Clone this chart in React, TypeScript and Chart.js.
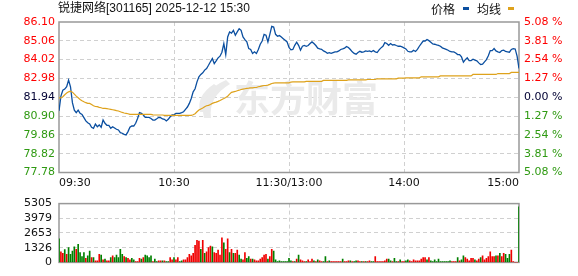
import React, { useEffect, useRef } from 'react';
import { Chart, registerables } from 'chart.js';
Chart.register(...registerables);

const TITLE = '锐捷网络[301165] 2025-12-12 15:30';
const LEGEND_PRICE = '价格';
const LEGEND_AVG = '均线';
const WATERMARK = '东方财富';
const PREV_CLOSE = 81.94;
const priceTicks = [77.78, 78.82, 79.86, 80.9, 81.94, 82.98, 84.02, 85.06, 86.1];
const volTicks = [0, 1326, 2653, 3979, 5305];
const timeTickIdx = [0, 60, 120, 180, 240];
const timeLabels = ['09:30', '10:30', '11:30/13:00', '14:00', '15:00'];

const price = [
  81.19, 82.0, 82.33, 82.39, 82.52, 82.89, 82.52, 81.64, 81.23, 81.09,
  81.23, 81.05, 80.99, 80.81, 80.63, 80.53, 80.46, 80.28, 80.22, 80.46,
  80.31, 80.41, 80.28, 80.68, 80.5, 80.39, 80.39, 80.22, 80.31, 80.24,
  80.17, 80.13, 79.98, 79.95, 79.89, 79.86, 80.04, 80.28, 80.35, 80.35,
  80.5, 80.77, 81.09, 81.05, 80.96, 80.83, 80.83, 80.83, 80.77, 80.68,
  80.68, 80.75, 80.83, 80.81, 80.74, 80.72, 80.63, 80.72, 80.86, 80.96,
  80.96,
  81.05, 81.05, 81.05, 81.09, 81.14, 81.27, 81.4, 81.6, 81.87, 82.24,
  82.41, 82.79, 83.07, 83.2, 83.29, 83.44, 83.53, 83.71, 83.9, 84.08,
  83.8, 83.95, 84.12, 84.21, 84.43, 84.91, 84.3, 85.27, 85.55, 85.49,
  85.64, 85.37, 85.55, 85.73, 85.64, 85.27, 85.13, 85.0, 84.63, 84.58,
  84.36, 84.45, 84.36, 84.58, 84.87, 85.05, 85.42, 85.37, 85.0, 85.42,
  85.86, 85.82, 85.42, 85.31, 85.35, 85.27, 85.18, 85.09, 85.0, 84.69,
  84.56, 84.58, 84.81, 84.98, 84.81, 84.54, 84.76, 84.8, 84.76, 84.8,
  84.91, 85.0, 84.91, 84.8, 84.65, 84.61, 84.59, 84.5, 84.45, 84.37,
  84.41, 84.37, 84.41, 84.45, 84.45, 84.5, 84.58, 84.61, 84.65, 84.74,
  84.69, 84.58, 84.45, 84.36, 84.32, 84.41, 84.48, 84.43, 84.45, 84.5,
  84.48, 84.5, 84.45, 84.52, 84.45, 84.41, 84.56, 84.67, 84.76, 84.96,
  84.91, 84.81, 84.91, 84.83, 84.85, 84.8, 84.76, 84.76, 84.72, 84.67,
  84.61, 84.48, 84.45, 84.45, 84.54, 84.47, 84.59, 84.76, 84.91, 85.05,
  85.05, 85.13, 85.07, 84.98, 84.89, 84.87, 84.83, 84.81, 84.76, 84.67,
  84.63, 84.59, 84.54, 84.47, 84.45, 84.45, 84.39, 84.3, 84.3, 84.17,
  83.88, 84.02, 84.12, 83.97, 83.97, 84.04, 83.99, 83.95, 83.84, 83.75,
  83.77, 83.9, 84.02, 84.23, 84.52, 84.52, 84.63, 84.5, 84.45, 84.41,
  84.52, 84.54, 84.47, 84.45, 84.43, 84.58, 84.63, 84.61, 84.21, 83.53,
];

const avgPrice = [
  81.9, 81.9, 81.97, 82.08, 82.17, 82.24, 82.28, 82.22, 82.11, 82.0,
  81.91, 81.82, 81.75, 81.69, 81.64, 81.6, 81.6, 81.54, 81.47, 81.43,
  81.42, 81.38, 81.36, 81.32, 81.32, 81.31, 81.29, 81.27, 81.25, 81.23,
  81.2, 81.18, 81.14, 81.1, 81.07, 81.05, 81.03, 80.99, 80.99, 80.99,
  80.99, 80.99, 80.99, 80.99, 80.99, 80.99, 80.99, 80.99, 80.99, 80.97,
  80.96, 80.96, 80.96, 80.96, 80.96, 80.94, 80.94, 80.94, 80.94, 80.94,
  80.94,
  80.94, 80.94, 80.94, 80.94, 80.94, 80.94, 80.94, 80.94, 80.94, 80.97,
  81.03, 81.14, 81.23, 81.29, 81.34, 81.42, 81.47, 81.49, 81.54, 81.6,
  81.64, 81.67, 81.71, 81.76, 81.82, 81.87, 81.93, 82.0, 82.11, 82.21,
  82.24, 82.26, 82.3, 82.33, 82.37, 82.39, 82.41, 82.43, 82.44, 82.46,
  82.46, 82.48, 82.48, 82.52, 82.54, 82.57, 82.59, 82.59, 82.61, 82.65,
  82.7, 82.72, 82.74, 82.74, 82.74, 82.74, 82.74, 82.74, 82.74, 82.74,
  82.78, 82.79, 82.79, 82.79, 82.79, 82.79, 82.79, 82.79, 82.82, 82.82,
  82.82, 82.82, 82.82, 82.82, 82.82, 82.82, 82.82, 82.87, 82.87, 82.87,
  82.87, 82.87, 82.87, 82.87, 82.87, 82.87, 82.87, 82.87, 82.87, 82.87,
  82.9, 82.9, 82.9, 82.9, 82.9, 82.9, 82.9, 82.9, 82.9, 82.9,
  82.92, 82.92, 82.92, 82.92, 82.92, 82.96, 82.96, 82.96, 82.96, 82.96,
  82.96, 82.96, 82.96, 82.96, 82.96, 82.96, 83.0, 83.0, 83.0, 83.0,
  83.01, 83.01, 83.01, 83.01, 83.01, 83.01, 83.01, 83.01, 83.07, 83.07,
  83.07, 83.07, 83.07, 83.07, 83.07, 83.07, 83.07, 83.07, 83.12, 83.12,
  83.12, 83.12, 83.12, 83.12, 83.12, 83.12, 83.12, 83.12, 83.12, 83.12,
  83.12, 83.12, 83.12, 83.12, 83.12, 83.2, 83.2, 83.2, 83.2, 83.2,
  83.2, 83.2, 83.2, 83.2, 83.2, 83.2, 83.2, 83.2, 83.25, 83.25,
  83.25, 83.25, 83.25, 83.25, 83.25, 83.31, 83.31, 83.31, 83.31, 83.31,
];

const volume = [
  2137, 958, 810, 1154, 737, 1326, 737, 1031, 1400, 1179,
  1621, 884, 516, 884, 368, 589, 1031, 442, 442, 147,
  147, 737, 663, 221, 295, 147, 147, 442, 589, 442,
  663, 442, 1179, 737, 516, 442, 368, 221, 368, 221,
  74, 74, 368, 295, 442, 663, 589, 442, 589, 74,
  295, 74, 147, 147, 147, 147, 74, 74, 442, 221,
  442, 221, 442, 74, 147, 221, 221, 442, 737, 589,
  810, 1547, 1989, 1916, 1179, 1989, 810, 958, 1326, 1474,
  1400, 884, 810, 1105, 663, 2210, 1768, 1179, 2137, 884,
  1179, 810, 810, 1105, 663, 295, 221, 884, 368, 516,
  295, 295, 221, 147, 147, 295, 442, 663, 737, 295,
  516, 1179, 1031, 221, 74, 147, 74, 74, 74, 74,
  368,
  147, 74, 74, 295, 663, 221, 147, 74, 74, 221,
  74, 295, 147, 74, 221, 147, 74, 74, 516, 74,
  147, 74, 74, 74, 74, 74, 74, 295, 74, 74,
  147, 147, 74, 74, 147, 147, 74, 74, 74, 74,
  74, 147, 74, 74, 516, 74, 74, 74, 74, 147,
  295, 295, 147, 74, 368, 74, 74, 221, 74, 74,
  147, 221, 147, 74, 221, 147, 147, 147, 295, 442,
  442, 221, 442, 147, 74, 221, 74, 295, 74, 74,
  74, 74, 74, 147, 74, 74, 74, 442, 147, 221,
  589, 442, 295, 147, 368, 368, 221, 147, 295, 442,
  589, 221, 368, 516, 958, 516, 516, 589, 589, 810,
  516, 810, 737, 368, 737, 1105, 74, 0, 0, 5010,
];

// 1 = up (red), -1 = down (green)
const volDir = [
  -1, 1, 1, -1, 1, -1, -1, -1, -1, 1,
  -1, -1, -1, -1, 1, -1, -1, 1, -1, 1,
  1, 1, -1, 1, -1, 1, 1, -1, 1, -1,
  -1, -1, -1, -1, 1, -1, 1, 1, -1, -1,
  1, 1, 1, -1, 1, -1, -1, -1, -1, 1,
  -1, -1, 1, 1, -1, 1, -1, -1, 1, 1,
  -1, 1, 1, -1, -1, 1, 1, 1, 1, 1,
  1, 1, 1, 1, -1, 1, -1, 1, 1, 1,
  -1, 1, 1, 1, 1, 1, -1, 1, 1, -1,
  1, -1, 1, 1, -1, -1, 1, 1, -1, -1,
  1, -1, 1, 1, 1, 1, 1, 1, 1, -1,
  1, 1, -1, -1, -1, -1, -1, -1, -1, -1,
  -1,
  -1, 1, -1, 1, -1, 1, 1, 1, -1, 1,
  1, 1, -1, 1, -1, 1, 1, -1, -1, 1,
  -1, 1, 1, 1, 1, 1, 1, -1, 1, 1,
  1, -1, 1, -1, -1, 1, 1, -1, 1, -1,
  1, 1, -1, -1, 1, 1, 1, 1, 1, 1,
  1, -1, -1, 1, -1, -1, 1, -1, 1, 1,
  -1, -1, 1, 1, 1, 1, 1, 1, 1, 1,
  1, -1, 1, -1, -1, -1, -1, -1, -1, -1,
  -1, -1, -1, -1, 1, 1, 1, -1, 1, -1,
  -1, 1, 1, 1, 1, 1, -1, 1, 1, -1,
  1, 1, 1, 1, 1, 1, 1, -1, 1, -1,
  1, 1, -1, -1, -1, 1, 1, 1, 1, -1,
];

const RED = '#ff0000';
const GREEN = '#2f9a12';
const DARK = '#000033';
const BAR_RED = '#f00000';
const BAR_GREEN = '#008000';
const BLUE = '#0b4fa0';
const ORANGE = '#dea21c';
const GRID = '#d0d0d0';
const FRAME = '#999999';
const TICK_FONT = { family: '"DejaVu Sans", sans-serif', size: 11 };

const W = 578;
const PRICE_H = 190;
const VOL_H = 86;

const near = (a: number, b: number) => Math.abs(a - b) < 1e-6;

const framePlugin = {
  id: 'frame',
  beforeDatasetsDraw(chart: any) {
    const { ctx, chartArea: a } = chart;
    ctx.save();
    ctx.strokeStyle = FRAME;
    ctx.lineWidth = 1.5;
    ctx.strokeRect(a.left, a.top, a.right - a.left, a.bottom - a.top);
    ctx.restore();
  },
};

const watermarkPlugin = {
  id: 'watermark',
  beforeDatasetsDraw(chart: any) {
    const { ctx } = chart;
    ctx.save();
    ctx.fillStyle = '#eaeaea';
    ctx.beginPath();
    ctx.moveTo(226, 80);
    ctx.quadraticCurveTo(198, 92, 204, 118);
    ctx.lineTo(211, 118);
    ctx.quadraticCurveTo(208, 97, 230, 84);
    ctx.closePath();
    ctx.fill();
    ctx.beginPath();
    ctx.moveTo(214, 84);
    ctx.quadraticCurveTo(196, 96, 200, 112);
    ctx.lineTo(203, 112);
    ctx.quadraticCurveTo(202, 98, 218, 87);
    ctx.closePath();
    ctx.fill();
    ctx.font = 'bold 36px "Noto Sans CJK SC"';
    ctx.textBaseline = 'middle';
    ctx.textAlign = 'left';
    ctx.fillText(WATERMARK, 234, 98);
    ctx.restore();
  },
};

const headerPlugin = {
  id: 'header',
  afterDraw(chart: any) {
    const { ctx } = chart;
    ctx.save();
    ctx.textBaseline = 'middle';
    ctx.textAlign = 'left';
    ctx.fillStyle = '#111';
    ctx.font = '12px "Liberation Sans", "Noto Sans CJK SC", sans-serif';
    ctx.fillText(TITLE, 58, 9);
    ctx.font = '12px "Noto Sans CJK SC", sans-serif';
    ctx.fillText(LEGEND_PRICE, 431, 9);
    ctx.fillText(LEGEND_AVG, 477, 9);
    ctx.fillStyle = BLUE;
    ctx.fillRect(463, 7, 6, 3);
    ctx.fillStyle = ORANGE;
    ctx.fillRect(508, 7, 6, 3);
    ctx.restore();
  },
};

const labelColor = (v: number) => (near(v, PREV_CLOSE) ? DARK : v > PREV_CLOSE ? RED : GREEN);

export default function App() {
  const priceRef = useRef<HTMLCanvasElement>(null);
  const volRef = useRef<HTMLCanvasElement>(null);

  useEffect(() => {
    document.body.style.margin = '0';
    const xs = price.map((_, i) => i);
    const setPriceTicks = (s: any) => {
      s.ticks = priceTicks.map((v) => ({ value: v }));
    };
    const setTimeTicks = (s: any) => {
      s.ticks = timeTickIdx.map((v) => ({ value: v }));
    };
    const innerGrid = (n: number) => (ctx: any) =>
      ctx.index === 0 || ctx.index === n - 1 ? 'rgba(0,0,0,0)' : GRID;

    const priceChart = new Chart(priceRef.current as HTMLCanvasElement, {
      type: 'line',
      data: {
        datasets: [
          {
            label: LEGEND_AVG,
            data: xs.map((i) => ({ x: i, y: avgPrice[i] })),
            borderColor: ORANGE,
            borderWidth: 1.2,
            pointRadius: 0,
            tension: 0,
            yAxisID: 'y',
          },
          {
            label: LEGEND_PRICE,
            data: xs.map((i) => ({ x: i, y: price[i] })),
            borderColor: BLUE,
            borderWidth: 1.3,
            pointRadius: 0,
            tension: 0,
            yAxisID: 'y',
          },
        ],
      },
      options: {
        responsive: false,
        animation: false,
        events: [],
        layout: { padding: { top: 22, left: 0, right: 0, bottom: 0 } },
        plugins: { legend: { display: false }, tooltip: { enabled: false }, title: { display: false } },
        scales: {
          x: {
            type: 'linear',
            min: 0,
            max: 240,
            afterBuildTicks: setTimeTicks,
            afterFit: (s: any) => {
              s.height = PRICE_H - 172.5;
            },
            ticks: {
              autoSkip: false,
              maxRotation: 0,
              align: 'inner',
              padding: 4,
              color: '#111',
              font: TICK_FONT,
              callback: (_v: any, i: number) => timeLabels[i],
            },
            grid: { color: innerGrid(timeTickIdx.length), drawTicks: false, lineWidth: 1 },
            border: { display: false, dash: [4, 3] },
          },
          y: {
            position: 'left',
            min: priceTicks[0],
            max: priceTicks[priceTicks.length - 1],
            afterBuildTicks: setPriceTicks,
            afterFit: (s: any) => {
              s.width = 59;
            },
            ticks: {
              padding: 4,
              font: TICK_FONT,
              color: (ctx: any) => labelColor(ctx.tick.value),
              callback: (v: any) => Number(v).toFixed(2),
            },
            grid: { color: innerGrid(priceTicks.length), drawTicks: false, lineWidth: 1 },
            border: { display: false, dash: [4, 3] },
          },
          y2: {
            position: 'right',
            min: priceTicks[0],
            max: priceTicks[priceTicks.length - 1],
            afterBuildTicks: setPriceTicks,
            afterFit: (s: any) => {
              s.width = 59;
            },
            ticks: {
              padding: 5,
              font: TICK_FONT,
              color: (ctx: any) => labelColor(ctx.tick.value),
              callback: (v: any) =>
                ((Math.abs(Number(v) - PREV_CLOSE) / PREV_CLOSE) * 100).toFixed(2) + ' %',
            },
            grid: { display: false, drawTicks: false },
            border: { display: false },
          },
        },
      },
      plugins: [framePlugin, watermarkPlugin, headerPlugin],
    } as any);

    const volChart = new Chart(volRef.current as HTMLCanvasElement, {
      type: 'bar',
      data: {
        datasets: [
          {
            data: xs.map((i) => ({ x: i, y: volume[i] })),
            backgroundColor: xs.map((i) => (volDir[i] > 0 ? BAR_RED : BAR_GREEN)),
            barThickness: 1,
            borderWidth: 0,
          },
        ],
      },
      options: {
        responsive: false,
        animation: false,
        events: [],
        layout: { padding: { top: 6, left: 0, right: 59, bottom: 6 } },
        plugins: { legend: { display: false }, tooltip: { enabled: false } },
        scales: {
          x: {
            type: 'linear',
            min: 0,
            max: 240,
            offset: false,
            afterBuildTicks: setTimeTicks,
            afterFit: (s: any) => {
              s.height = 0;
            },
            ticks: { display: false },
            grid: { color: innerGrid(timeTickIdx.length), drawTicks: false, lineWidth: 1, offset: false },
            border: { display: false, dash: [4, 3] },
          },
          y: {
            position: 'left',
            min: 0,
            max: volTicks[volTicks.length - 1],
            afterBuildTicks: (s: any) => {
              s.ticks = volTicks.map((v) => ({ value: v }));
            },
            afterFit: (s: any) => {
              s.width = 59;
            },
            ticks: { padding: 7, font: TICK_FONT, color: '#111', callback: (v: any) => String(v) },
            grid: { color: innerGrid(volTicks.length), drawTicks: false, lineWidth: 1 },
            border: { display: false, dash: [4, 3] },
          },
        },
      },
      plugins: [framePlugin],
    } as any);

    return () => {
      priceChart.destroy();
      volChart.destroy();
    };
  }, []);

  return (
    <div style={{ position: 'absolute', left: 0, top: 0, width: W, height: PRICE_H + VOL_H, background: '#fff' }}>
      <canvas
        ref={priceRef}
        width={W}
        height={PRICE_H}
        style={{ position: 'absolute', left: 0, top: 0, width: W, height: PRICE_H, display: 'block' }}
      />
      <canvas
        ref={volRef}
        width={W}
        height={VOL_H}
        style={{ position: 'absolute', left: 0, top: PRICE_H, width: W, height: VOL_H, display: 'block' }}
      />
    </div>
  );
}
